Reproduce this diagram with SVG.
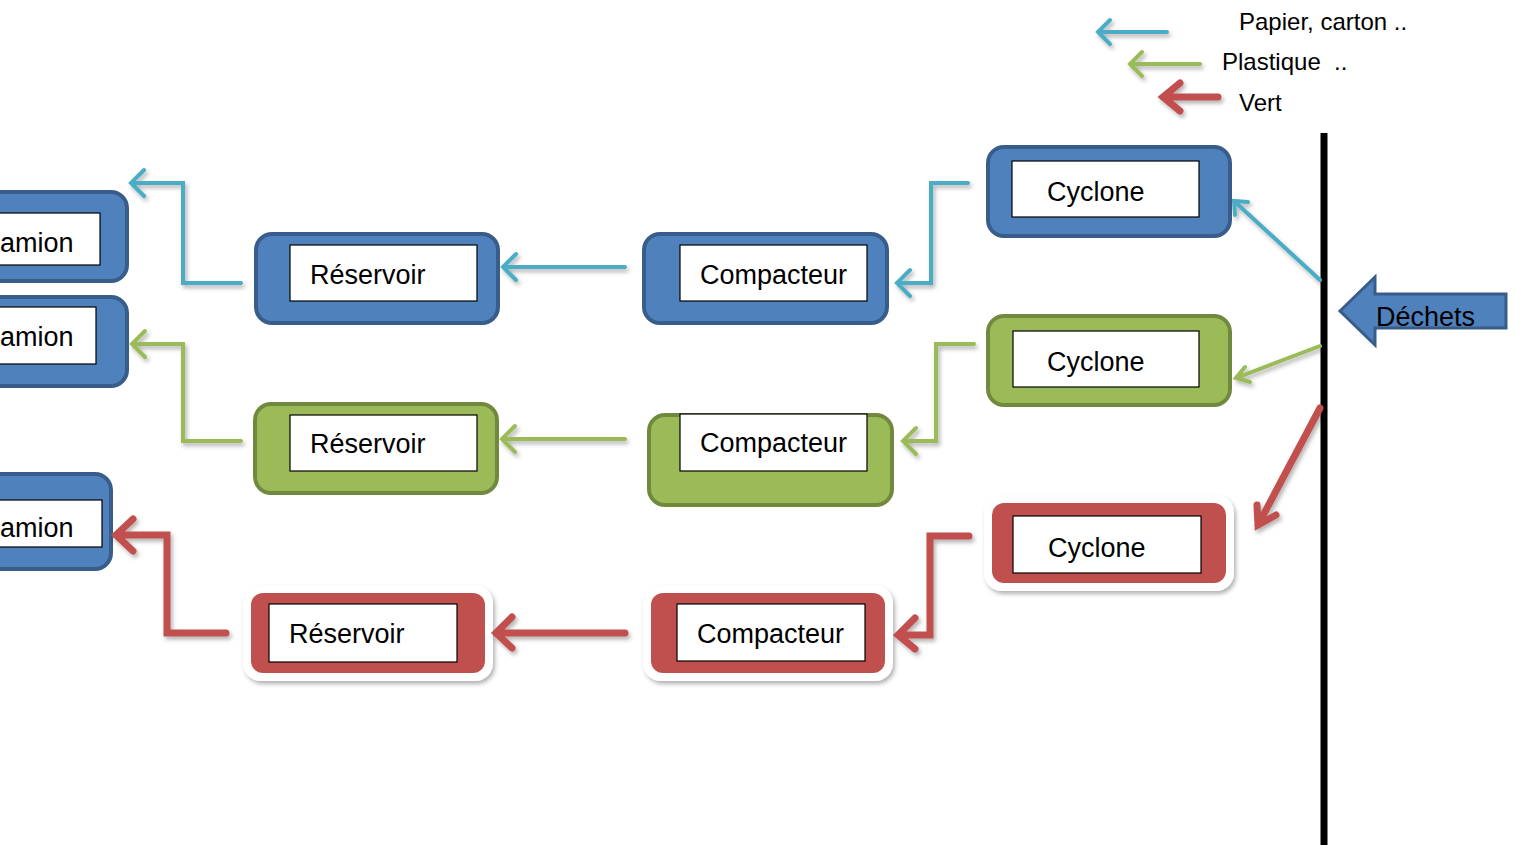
<svg xmlns="http://www.w3.org/2000/svg" width="1520" height="845" viewBox="0 0 1520 845">
<defs>
<filter id="sh" x="-20%" y="-20%" width="140%" height="150%">
<feDropShadow dx="2" dy="3" stdDeviation="2" flood-color="#000" flood-opacity="0.3"/>
</filter>
<style>
text{font-family:"Liberation Sans",Arial,sans-serif;fill:#000}
.lbl{font-size:27px}
.leg{font-size:24px}
.bo{fill:#4F81BD;stroke:#385D8A;stroke-width:4}
.go{fill:#9BBB59;stroke:#71893F;stroke-width:4}
.rw{fill:#fff;filter:url(#sh)}
.ro{fill:#C0504D}
.in{fill:#fff;stroke:#000;stroke-width:1.2}
.cb{fill:none;stroke:#4BACC6;stroke-width:4;stroke-linecap:round;stroke-linejoin:miter;filter:url(#sh)}
.cg{fill:none;stroke:#9BBB59;stroke-width:4;stroke-linecap:round;stroke-linejoin:miter;filter:url(#sh)}
.cr{fill:none;stroke:#C0504D;stroke-width:7;stroke-linecap:round;stroke-linejoin:miter;filter:url(#sh)}
</style>
</defs>

<g id="legend">
<path class="cb" d="M1167,32 H1098 M1110,20 L1098,32 L1110,44"/>
<path class="cg" d="M1200,64 H1130 M1142,52 L1130,64 L1142,76"/>
<path class="cr" d="M1218,97 H1163 M1180,83 L1163,97 L1180,111"/>
<text class="leg" x="1239" y="30">Papier, carton ..</text>
<text class="leg" x="1222" y="70" xml:space="preserve">Plastique  ..</text>
<text class="leg" x="1239" y="111">Vert</text>
</g>

<g id="wall">
<line x1="1324" y1="133" x2="1324" y2="845" stroke="#000" stroke-width="7"/>
</g>

<g id="dechets">
<path d="M1340,311 L1375,277 L1375,294 L1506,294 L1506,328 L1375,328 L1375,345 Z" fill="#4F81BD" stroke="#385D8A" stroke-width="3"/>
<text class="lbl" x="1376" y="326" font-size="28">Déchets</text>
</g>

<g id="cyclone-blue">
<rect class="bo" x="988" y="147" width="242" height="89" rx="16"/>
<rect class="in" x="1012" y="161" width="187" height="56"/>
<text class="lbl" x="1047" y="201">Cyclone</text>
</g>
<g id="compacteur-blue">
<rect class="bo" x="644" y="234" width="243" height="89" rx="16"/>
<rect class="in" x="680" y="245" width="187" height="56"/>
<text class="lbl" x="700" y="284">Compacteur</text>
</g>
<g id="reservoir-blue">
<rect class="bo" x="256" y="234" width="242" height="89" rx="16"/>
<rect class="in" x="290" y="245" width="187" height="56"/>
<text class="lbl" x="310" y="284">Réservoir</text>
</g>
<g id="camion-1">
<rect class="bo" x="-40" y="192" width="167" height="89" rx="16"/>
<rect class="in" x="-20" y="213" width="120" height="52"/>
<text class="lbl" x="0" y="252">amion</text>
</g>
<g id="camion-2">
<rect class="bo" x="-40" y="297" width="167" height="89" rx="16"/>
<rect class="in" x="-20" y="307" width="116" height="57"/>
<text class="lbl" x="0" y="346">amion</text>
</g>
<g id="camion-3">
<rect class="bo" x="-40" y="474" width="151" height="95" rx="16"/>
<rect class="in" x="-20" y="500" width="122" height="47"/>
<text class="lbl" x="0" y="537">amion</text>
</g>

<g id="cyclone-green">
<rect class="go" x="988" y="316" width="242" height="89" rx="16"/>
<rect class="in" x="1013" y="331" width="186" height="56"/>
<text class="lbl" x="1047" y="371">Cyclone</text>
</g>
<g id="compacteur-green">
<rect class="go" x="649" y="415" width="243" height="90" rx="16"/>
<rect class="in" x="680" y="414" width="187" height="57"/>
<text class="lbl" x="700" y="452">Compacteur</text>
</g>
<g id="reservoir-green">
<rect class="go" x="255" y="404" width="242" height="89" rx="16"/>
<rect class="in" x="290" y="415" width="187" height="56"/>
<text class="lbl" x="310" y="453">Réservoir</text>
</g>

<g id="cyclone-red">
<rect class="rw" x="984" y="495" width="250" height="96" rx="18"/>
<rect class="ro" x="992" y="503" width="234" height="80" rx="12"/>
<rect class="in" x="1013" y="516" width="188" height="57"/>
<text class="lbl" x="1048" y="557">Cyclone</text>
</g>
<g id="compacteur-red">
<rect class="rw" x="643" y="585" width="250" height="96" rx="18"/>
<rect class="ro" x="651" y="593" width="234" height="80" rx="12"/>
<rect class="in" x="677" y="604" width="188" height="57"/>
<text class="lbl" x="697" y="643">Compacteur</text>
</g>
<g id="reservoir-red">
<rect class="rw" x="243" y="585" width="250" height="96" rx="18"/>
<rect class="ro" x="251" y="593" width="234" height="80" rx="12"/>
<rect class="in" x="269" y="604" width="188" height="58"/>
<text class="lbl" x="289" y="643">Réservoir</text>
</g>

<g id="connectors">
<path class="cb" d="M1320,280 L1234,201 M1235,215 L1234,201 L1248,202"/>
<path class="cg" d="M1320,346 L1236,378 M1245,367 L1236,378 L1250,382"/>
<path class="cr" d="M1320,408 L1258,525 M1257,505 L1258,525 L1276,515"/>

<path class="cb" d="M968,183 H931 V283 H897 M910,270 L897,283 L910,296"/>
<path class="cb" d="M625,267 H503 M516,254 L503,267 L516,280"/>
<path class="cb" d="M241,283 H183 V183 H131 M144,170 L131,183 L144,196"/>

<path class="cg" d="M974,344 H936 V441 H903 M916,428 L903,441 L916,454"/>
<path class="cg" d="M625,439 H502 M515,426 L502,439 L515,452"/>
<path class="cg" d="M241,441 H183 V344 H132 M145,331 L132,344 L145,357"/>

<path class="cr" d="M969,536 H930 V635 H898 M915,618 L898,635 L915,649"/>
<path class="cr" d="M625,633 H496 M512,617 L496,633 L512,648"/>
<path class="cr" d="M226,633 H167 V535 H116 M133,519 L116,535 L133,551"/>
</g>
</svg>
